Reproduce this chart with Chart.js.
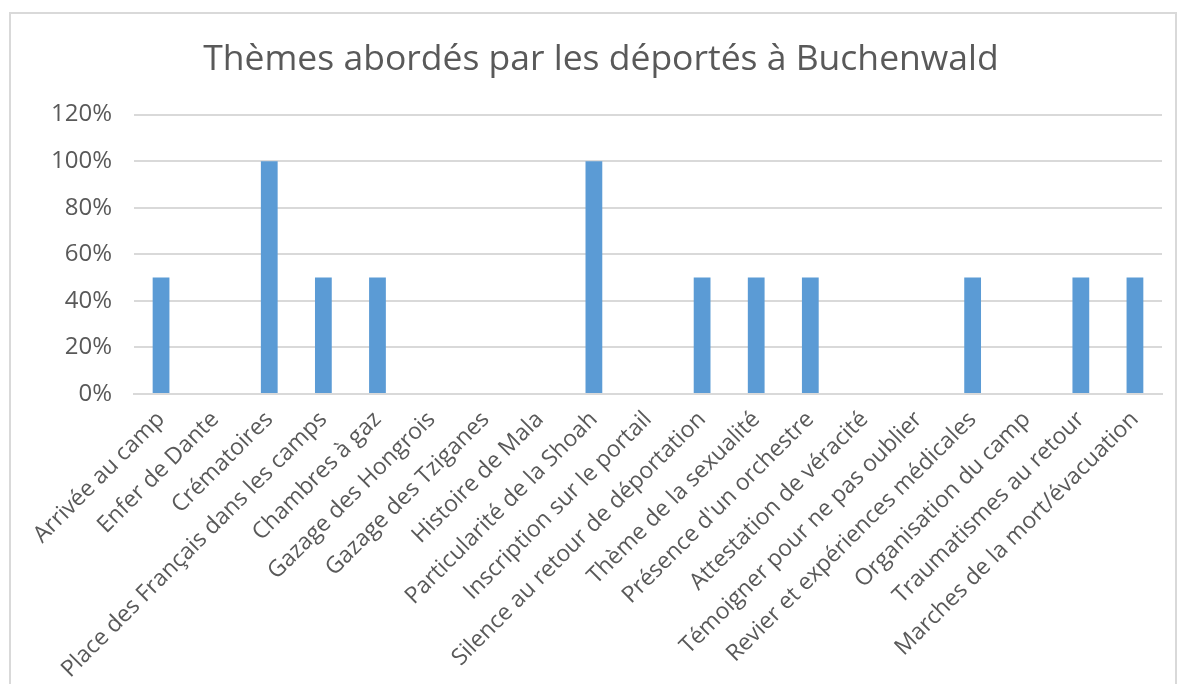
<!DOCTYPE html>
<html>
<head>
<meta charset="utf-8">
<script src="https://cdn.jsdelivr.net/npm/chart.js@4"></script>
<style>
  body { margin: 0; background: #fff; }
  #cadre {
    position: absolute; left: 9px; top: 12px;
    width: 1164px; height: 680px;
    border: 2px solid #d9d9d9; border-bottom: none;
  }
  canvas { display: block; }
</style>
</head>
<body>
<div id="cadre"><canvas id="myChart" width="1164" height="672"></canvas></div>
<script>
var titre = 'Thèmes abordés par les déportés à Buchenwald';

var themes = [
    'Arrivée au camp',
    'Enfer de Dante',
    'Crématoires',
    'Place des Français dans les camps',
    'Chambres à gaz',
    'Gazage des Hongrois',
    'Gazage des Tziganes',
    'Histoire de Mala',
    'Particularité de la Shoah',
    'Inscription sur le portail',
    'Silence au retour de déportation',
    'Thème de la sexualité',
    "Présence d'un orchestre",
    'Attestation de véracité',
    'Témoigner pour ne pas oublier',
    'Revier et expériences médicales',
    'Organisation du camp',
    'Traumatismes au retour',
    'Marches de la mort/évacuation'
];

// pourcentages
var pourcentages = [50, 0, 100, 50, 50, 0, 0, 0, 100, 0, 50, 50, 50, 0, 0, 50, 0, 50, 50];

var yMin = 0;
var yMax = 120;
var yPas = 20;

var gris = '#595959';
var ctx = document.getElementById('myChart');

var myChart = new Chart(ctx, {
    type: 'bar',
    data: {
        labels: themes,
        datasets: [{
            label: 'Thèmes',
            data: pourcentages,
            backgroundColor: '#5b9bd5',
            borderWidth: 0,
            barPercentage: 0.31,
            categoryPercentage: 1
        }]
    },
    options: {
        responsive: false,
        animation: false,
        layout: {
            padding: { left: 29, right: 13, top: 0, bottom: 0 }
        },
        plugins: {
            legend: { display: false },
            tooltip: { enabled: false },
            title: {
                display: true,
                text: titre,
                color: gris,
                font: { family: 'Open Sans', size: 35.5, weight: 'normal' },
                padding: { top: 25, bottom: 33 }
            }
        },
        scales: {
            x: {
                grid: { display: false },
                border: { display: true, color: '#d9d9d9', width: 2 },
                ticks: {
                    color: gris,
                    font: { family: 'Open Sans', size: 23 },
                    minRotation: 45,
                    maxRotation: 45,
                    autoSkip: false,
                    padding: 4
                },
                afterFit: function (scale) { scale.height = 292; }
            },
            y: {
                min: yMin,
                max: yMax,
                grid: { color: '#d9d9d9', lineWidth: 2, drawTicks: false },
                border: { display: false },
                ticks: {
                    stepSize: yPas,
                    color: gris,
                    font: { family: 'Open Sans', size: 24 },
                    padding: 22,
                    callback: function (v) { return v + '%'; }
                },
                afterFit: function (scale) { scale.width = 94; }
            }
        }
    }
});
</script>
</body>
</html>
